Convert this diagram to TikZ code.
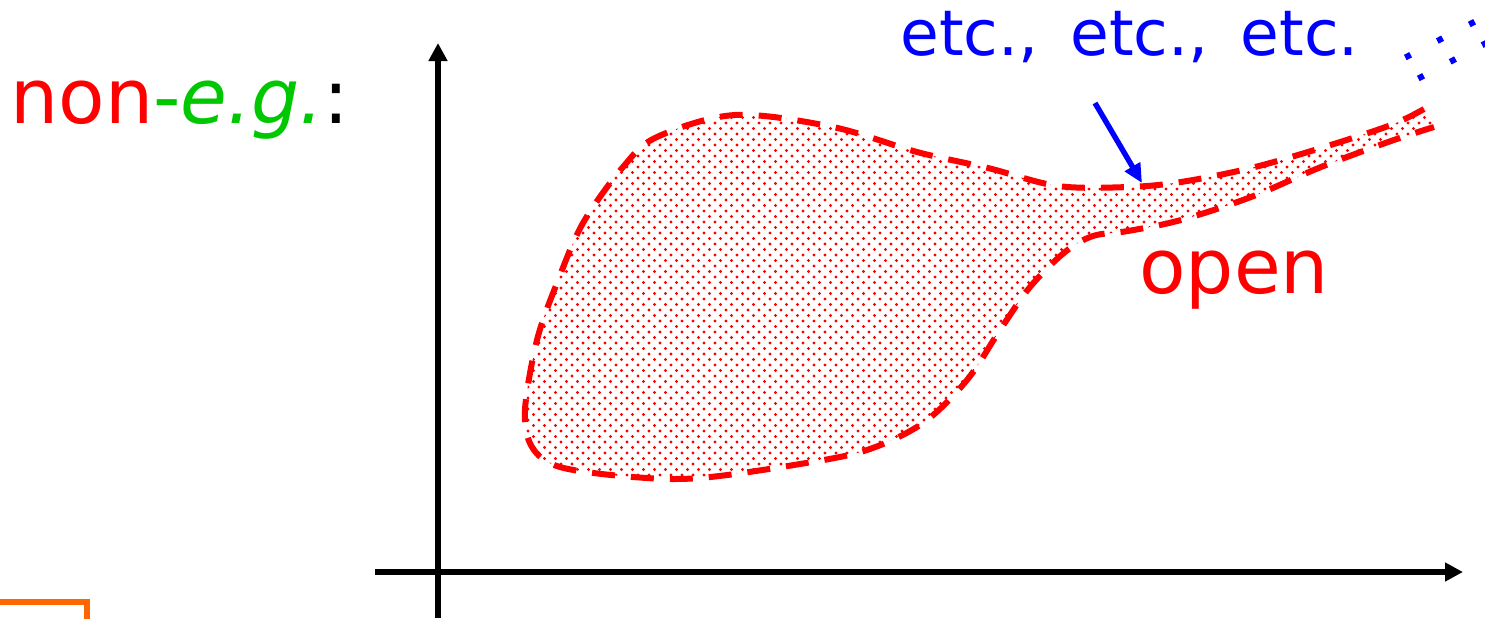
\documentclass[tikz,border=0pt]{standalone}
\usepackage{fontspec}
\setmainfont{DejaVu Sans}
\usetikzlibrary{arrows.meta,patterns.meta}
\definecolor{egGreen}{RGB}{0,200,0}
\definecolor{boxOrange}{RGB}{255,102,0}
\tikzdeclarepattern{
  name=reddots,
  type=uncolored,
  bottom left={(-1pt,-1pt)},
  top right={(4.5pt,4.5pt)},
  tile size={(5.5pt,5.5pt)},
  code={
    \fill (0pt,0pt) circle (0.85pt);
    \fill (2.75pt,2.75pt) circle (0.85pt);
  }
}
\tikzset{
  axisline/.style={line width=3pt, -{Triangle[length=9pt,width=9pt]}},
  regionfill/.style={pattern=reddots, pattern color=red},
  regionedge/.style={draw=red, line width=3pt, dash pattern=on 11.5pt off 8pt},
  pointer/.style={draw=blue, line width=2.7pt, -{Triangle[length=9.5pt,width=8.5pt]}},
  contdots/.style={draw=blue, line width=3pt, dash pattern=on 3pt off 15pt},
  bigtext/.style={inner sep=0pt, anchor=base west, font=\fontsize{38}{44}\selectfont},
  etctext/.style={inner sep=0pt, anchor=base west, text=blue, font=\fontsize{31.5}{40}\selectfont}
}
\begin{document}
\begin{tikzpicture}[x=0.5pt,y=-0.5pt]
\useasboundingbox (0,0) rectangle (1485,618);

% orange box corner
\draw[boxOrange, line width=2.9pt, line join=miter] (-10,602) -- (87,602) -- (87,630);

% axes
\coordinate (origin) at (438,618);
\coordinate (ytip) at (438,43);
\coordinate (xstart) at (375,572);
\coordinate (xtip) at (1463,572);
\draw[axisline] (origin) -- (ytip);
\draw[axisline] (xstart) -- (xtip);

% region
\def\regionpath{plot[smooth, tension=0.55] coordinates {
 (1424,109) (1391,125) (1321,148) (1251,168) (1181,182) (1128,187) (1058,186)
 (988,168) (917,152) (833,127) (735,115) (657,137) (623,167) (583,223)
 (557,283) (537,340) (525,410) (532,447) (560,467) (633,477) (700,478)
 (800,464) (867,450) (923,423) (967,380) (1000,330) (1030,287) (1065,252)
 (1093,236) (1128,231) (1181,220) (1251,197) (1321,167) (1391,141) (1434,127)}}
\fill[regionfill] \regionpath -- cycle;
\draw[regionedge] \regionpath;

% continuation dots
\coordinate (dotsAstart) at (1405.3,57.5);
\coordinate (dotsAend) at (1476,21);
\coordinate (dotsBstart) at (1418.3,78.5);
\coordinate (dotsBend) at (1490,41);
\draw[contdots] (dotsAstart) -- (dotsAend);
\draw[contdots] (dotsBstart) -- (dotsBend);

% labels
\node[bigtext] (noneg) at (10,123) {\textcolor{red}{non}\textcolor{egGreen}{-\itshape e.g.}:};
\node[etctext] (etc) at (900,55) {\spaceskip=16pt etc., etc., etc.};
\node[bigtext, text=red] (open) at (1139,293) {open};

% pointer
\coordinate (ptail) at (1095,103);
\coordinate (ptip) at (1142,183);
\draw[pointer] (ptail) -- (ptip);
\end{tikzpicture}
\end{document}
